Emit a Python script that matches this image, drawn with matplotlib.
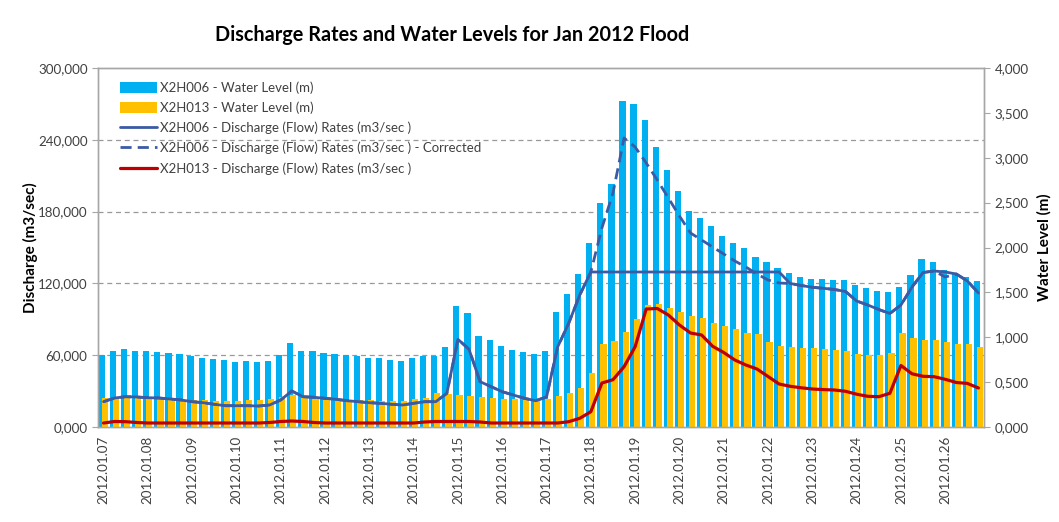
import matplotlib
matplotlib.use("Agg")
import matplotlib.pyplot as plt
import numpy as np

# Day labels (one label every four 6-hourly readings)
days = ["2012.01.07", "2012.01.08", "2012.01.09", "2012.01.10", "2012.01.11",
        "2012.01.12", "2012.01.13", "2012.01.14", "2012.01.15", "2012.01.16",
        "2012.01.17", "2012.01.18", "2012.01.19", "2012.01.20", "2012.01.21",
        "2012.01.22", "2012.01.23", "2012.01.24", "2012.01.25", "2012.01.26"]
readings_per_day = 4

# Water levels (m)
level_x2h006 = [0.802, 0.847, 0.869, 0.847, 0.847, 0.836, 0.825, 0.813,
                0.791, 0.769, 0.758, 0.741, 0.724, 0.735, 0.724, 0.735,
                0.802, 0.936, 0.847, 0.847, 0.830, 0.813, 0.802, 0.786,
                0.769, 0.769, 0.752, 0.735, 0.774, 0.791, 0.786, 0.886,
                1.343, 1.270, 1.014, 0.964, 0.908, 0.858, 0.836, 0.808,
                0.847, 1.281, 1.482, 1.710, 2.050, 2.501, 2.708, 3.632,
                3.599, 3.421, 3.120, 2.864, 2.630, 2.407, 2.329, 2.240,
                2.128, 2.050, 2.000, 1.894, 1.833, 1.772, 1.721, 1.666,
                1.649, 1.649, 1.643, 1.638, 1.577, 1.549, 1.515, 1.504,
                1.560, 1.694, 1.872, 1.838, 1.749, 1.721, 1.671, 1.627]

level_x2h013 = [0.323, 0.334, 0.334, 0.323, 0.323, 0.312, 0.312, 0.301,
                0.301, 0.301, 0.295, 0.290, 0.290, 0.301, 0.301, 0.312,
                0.334, 0.351, 0.323, 0.312, 0.301, 0.295, 0.301, 0.301,
                0.301, 0.290, 0.290, 0.290, 0.312, 0.323, 0.379, 0.368,
                0.357, 0.345, 0.334, 0.323, 0.312, 0.312, 0.301, 0.312,
                0.312, 0.345, 0.379, 0.435, 0.602, 0.925, 0.958, 1.053,
                1.203, 1.359, 1.365, 1.331, 1.281, 1.237, 1.214, 1.159,
                1.125, 1.092, 1.047, 1.036, 0.947, 0.903, 0.891, 0.880,
                0.880, 0.869, 0.858, 0.847, 0.813, 0.802, 0.802, 0.825,
                1.047, 0.992, 0.969, 0.969, 0.947, 0.925, 0.925, 0.891]

# Discharge (m3/sec)
flow_x2h006 = [21142, 24234, 25320, 25070, 24485, 24234, 23398, 22563,
               21142, 20306, 18969, 17800, 17800, 17800, 17549, 18384,
               22563, 30083, 25320, 24819, 23983, 23147, 21977, 21142,
               20306, 19805, 18969, 18384, 19805, 21142, 21142, 28161,
               73287, 64930, 37855, 33677, 29498, 26741, 23983, 21977,
               25070, 66852, 86657, 110306, 129526, 129526, 129526, 129526,
               129526, 129526, 129526, 129526, 129526, 129526, 129526, 129526,
               129526, 129526, 129526, 129526, 129526, 129526, 119916, 118245,
               116741, 115906, 114903, 113231, 105292, 101950, 98189, 94846,
               101950, 116992, 129108, 130362, 129526, 127855, 122005, 111977]

flow_x2h006_corrected = list(flow_x2h006)
flow_x2h006_corrected[45:62] = [166294, 195542, 241503, 233982, 220612, 206406,
                                191364, 176322, 162116, 156267, 150417, 144567,
                                138718, 133704, 127855, 122841, 120334]
flow_x2h006_corrected[76] = 125348

flow_x2h013 = [3343, 4596, 4429, 3760, 3343, 3343, 3343, 3343,
               3343, 3343, 3343, 3343, 3343, 3343, 3343, 3760,
               4596, 5014, 4596, 3760, 3343, 3343, 3343, 3343,
               3343, 3343, 3343, 3343, 3343, 4178, 4596, 4596,
               4596, 4596, 4178, 3343, 3343, 3343, 3343, 3343,
               3343, 3343, 4429, 7270, 12785, 36769, 39526, 50389,
               67103, 98607, 99025, 93593, 85236, 78551, 76880, 67437,
               62256, 55989, 51810, 48468, 42200, 35933, 34011, 32757,
               31755, 31253, 30919, 29833, 27409, 25655, 25320, 28161,
               51392, 44457, 42367, 42033, 39860, 37186, 36434, 32590]

flow_ticks = [0, 60000, 120000, 180000, 240000, 300000]
flow_tick_labels = ["0,000", "60,000", "120,000", "180,000", "240,000", "300,000"]
level_ticks = [0.0, 0.5, 1.0, 1.5, 2.0, 2.5, 3.0, 3.5, 4.0]

C_BLUE = "#00B0F0"
C_ORANGE = "#FFC000"
C_NAVY = "#3B5BA5"
C_RED = "#C00000"
C_AXIS = "#A6A6A6"
C_GRID = "#999999"
C_TEXT = "#404040"

plt.rcParams["font.family"] = ["Lato", "DejaVu Sans"]

fig = plt.figure(figsize=(10.59, 5.22), dpi=100)
fig.patch.set_facecolor("white")

ax_q = fig.add_axes([98 / 1059, 1 - 427 / 522, 886 / 1059, 359 / 522])
ax_l = ax_q.twinx()
ax_l.set_zorder(1)
ax_q.set_zorder(2)
ax_q.patch.set_visible(False)

x = np.arange(len(level_x2h006))
bw = 0.56
off = 0.14

# gridlines from the discharge axis, drawn beneath the bars
ax_l.hlines(flow_ticks[1:-1], -0.5, len(x) - 0.5, transform=ax_q.transData,
            colors=C_GRID, linestyles=(0, (4, 3)), linewidth=0.9, zorder=0)

b1 = ax_l.bar(x - off, level_x2h006, width=bw, color=C_BLUE, zorder=2,
              label="X2H006 - Water Level (m)")
b2 = ax_l.bar(x + off, level_x2h013, width=bw, color=C_ORANGE, zorder=3,
              label="X2H013 - Water Level (m)")

l1, = ax_q.plot(x, flow_x2h006, color=C_NAVY, lw=2.0, zorder=3,
                solid_joinstyle="round", solid_capstyle="round",
                label="X2H006 - Discharge (Flow) Rates (m3/sec )")
l2, = ax_q.plot(x, flow_x2h006_corrected, color=C_NAVY, lw=2.0, zorder=4,
                linestyle=(0, (4, 2.2)),
                label="X2H006 - Discharge (Flow) Rates (m3/sec ) - Corrected")
l3, = ax_q.plot(x, flow_x2h013, color=C_RED, lw=2.3, zorder=5,
                solid_joinstyle="round", solid_capstyle="round",
                label="X2H013 - Discharge (Flow) Rates (m3/sec )")

ax_q.set_xlim(-0.5, len(x) - 0.5)
ax_q.set_ylim(0, 300000)
ax_l.set_ylim(0, 4)

ax_q.set_yticks(flow_ticks)
ax_q.set_yticklabels(flow_tick_labels)
ax_l.set_yticks(level_ticks)
ax_l.set_yticklabels([f"{v:.3f}".replace(".", ",") for v in level_ticks])

ax_q.set_xticks(np.arange(0, len(x), readings_per_day))
ax_q.set_xticklabels(days, rotation=90)

for a in (ax_q, ax_l):
    for s in a.spines.values():
        s.set_color(C_AXIS)
        s.set_linewidth(1.0)
    a.tick_params(colors=C_AXIS, labelcolor=C_TEXT, labelsize=9.6, length=4, width=0.8)
ax_q.tick_params(axis="x", length=0, pad=6)

ax_q.set_ylabel("Discharge (m3/sec)", fontsize=11, fontweight="bold", color="black", labelpad=0)
ax_l.set_ylabel("Water Level (m)", fontsize=11, fontweight="bold", color="black", labelpad=6)

fig.text(452 / 1059, 1 - 35 / 522, "Discharge Rates and Water Levels for Jan 2012 Flood",
         ha="center", va="center", fontsize=14.3, fontweight="bold", color="black")

leg = ax_q.legend(handles=[b1, b2, l1, l2, l3], loc="upper left",
                  bbox_to_anchor=(0.016, 0.985), frameon=False, fontsize=9.5,
                  handlelength=2.8, handleheight=0.9, labelspacing=0.58,
                  handletextpad=0.25, borderaxespad=0.2)
for t in leg.get_texts():
    t.set_color(C_TEXT)

fig.savefig("out.png", dpi=100, facecolor="white")
